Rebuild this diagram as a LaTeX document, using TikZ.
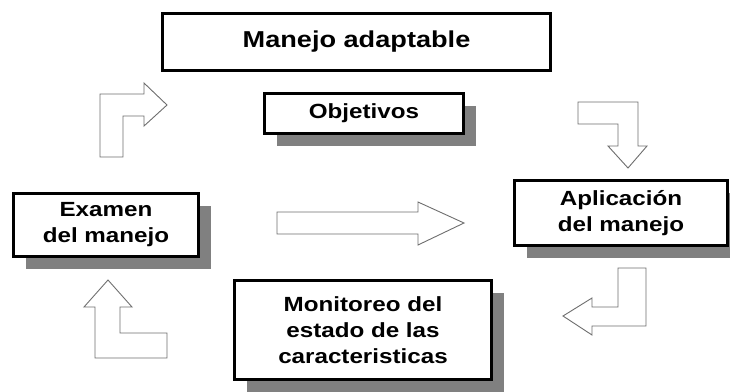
\documentclass[tikz,border=0pt]{standalone}
\usepackage{fontspec}
\newfontfamily\boxfont[FakeStretch=1.18]{Liberation Sans}
\usetikzlibrary{shadows}
\definecolor{cshadow}{HTML}{808080}
\definecolor{carrow}{HTML}{6E6E6E}
\tikzset{
  every picture/.style={x=1pt, y=-1pt},
  box/.style={draw=black, fill=white, line width=3pt, align=center, inner sep=0pt,
    font=\boxfont\bfseries\fontsize{20.5}{26}\selectfont,
    drop shadow={shadow xshift=12pt, shadow yshift=-12pt, fill=cshadow, opacity=1}},
  titlebox/.style={draw=black, fill=white, line width=3.5pt, inner sep=0pt,
    font=\boxfont\bfseries\fontsize{23}{28}\selectfont},
  blockarrow/.style={draw=carrow, fill=white, line width=0.9pt},
}
\begin{document}
\begin{tikzpicture}
  \useasboundingbox (0,0) rectangle (730,391);
  \node[titlebox, minimum width=388pt, minimum height=57pt] (manejo) at (356.5,42) {Manejo adaptable};
  \node[box, minimum width=199pt, minimum height=40pt] (objetivos) at (364,113.5) {Objetivos};
  \node[box, minimum width=185pt, minimum height=63pt] (examen) at (106,225) {Examen\\del manejo};
  \node[box, minimum width=213pt, minimum height=65pt] (aplicacion) at (621,213) {Aplicación\\del manejo};
  \node[box, minimum width=257pt, minimum height=99pt] (monitoreo) at (363,330) {Monitoreo del\\estado de las\\caracteristicas};
  % cycle of block arrows
  \draw[blockarrow] (100,157) -- (100,94) -- (144,94) -- (144,83) -- (167,105) -- (144,126) -- (144,116) -- (123,116) -- (123,157) -- cycle;
  \draw[blockarrow] (578,102) -- (638,102) -- (638,146) -- (647,146) -- (628,168) -- (608,146) -- (618,146) -- (618,124) -- (578,124) -- cycle;
  \draw[blockarrow] (277,212) -- (418,212) -- (418,202) -- (464,223) -- (418,245) -- (418,234) -- (277,234) -- cycle;
  \draw[blockarrow] (646,268) -- (646,326) -- (592,326) -- (592,335) -- (563,316) -- (592,298) -- (592,307) -- (618,307) -- (618,268) -- cycle;
  \draw[blockarrow] (95,358) -- (95,307) -- (84,307) -- (108,280) -- (132,307) -- (120,307) -- (120,333) -- (167,333) -- (167,358) -- cycle;
\end{tikzpicture}
\end{document}
